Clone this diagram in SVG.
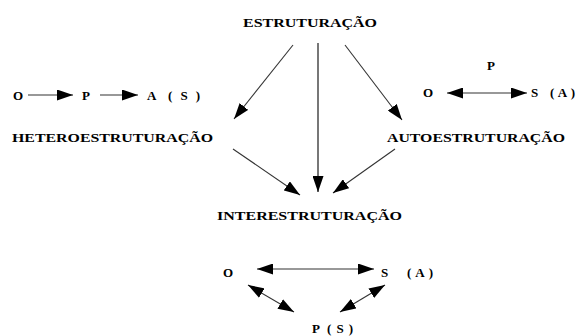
<svg xmlns="http://www.w3.org/2000/svg" width="587" height="336" viewBox="0 0 587 336">
<style>
text{font-family:"Liberation Serif","Times New Roman",serif;font-weight:bold;font-size:13px;fill:#000}
.w{font-size:12px}
.c line{stroke:#333;stroke-width:1.1;fill:none}
</style>
<defs>
<marker id="ah" viewBox="0 0 16 11" refX="16" refY="5.5" markerWidth="16" markerHeight="11" markerUnits="userSpaceOnUse" orient="auto-start-reverse">
<path d="M0,0 L16,5.5 L0,11 z" fill="#000"/>
</marker>
</defs>
<rect width="587" height="336" fill="#fff"/>
<g id="estruturacao"><text class="w" x="243" y="27" textLength="134" lengthAdjust="spacingAndGlyphs">ESTRUTURAÇÃO</text></g>
<g id="hetero"><text class="w" x="12" y="142" textLength="201" lengthAdjust="spacingAndGlyphs">HETEROESTRUTURAÇÃO</text></g>
<g id="auto"><text class="w" x="387" y="142" textLength="178" lengthAdjust="spacingAndGlyphs">AUTOESTRUTURAÇÃO</text></g>
<g id="inter"><text class="w" x="217" y="220" textLength="185" lengthAdjust="spacingAndGlyphs">INTERESTRUTURAÇÃO</text></g>
<g id="hetero-scheme">
<text x="13" y="100">O</text>
<text x="82" y="100">P</text>
<text x="147" y="100">A</text>
<text x="168" y="100" textLength="32" lengthAdjust="spacing">(S)</text>
</g>
<g id="auto-scheme">
<text x="487" y="70">P</text>
<text x="423" y="97">O</text>
<text x="531" y="97">S</text>
<text x="550" y="97" textLength="25" lengthAdjust="spacing">(A)</text>
</g>
<g id="inter-scheme">
<text x="223" y="277">O</text>
<text x="381" y="277">S</text>
<text x="407" y="277" textLength="26" lengthAdjust="spacing">(A)</text>
<text x="312" y="333">P</text>
<text x="327" y="333" textLength="26" lengthAdjust="spacing">(S)</text>
</g>
<g id="connectors" class="c">
<line x1="293" y1="45" x2="234" y2="119" marker-end="url(#ah)"/>
<line x1="318" y1="43" x2="318" y2="192" marker-end="url(#ah)" style="stroke-width:1.6;stroke:#555"/>
<line x1="345" y1="45" x2="402" y2="120" marker-end="url(#ah)"/>
<line x1="233" y1="149" x2="300" y2="195" marker-end="url(#ah)"/>
<line x1="395" y1="149" x2="333" y2="193" marker-end="url(#ah)"/>
<line x1="28" y1="95" x2="73" y2="95" marker-end="url(#ah)"/>
<line x1="100" y1="95" x2="138" y2="95" marker-end="url(#ah)"/>
<line x1="447" y1="93" x2="527" y2="93" marker-start="url(#ah)" marker-end="url(#ah)"/>
<line x1="257" y1="269" x2="374" y2="269" marker-start="url(#ah)" marker-end="url(#ah)"/>
<line x1="248" y1="285" x2="294" y2="312" marker-start="url(#ah)" marker-end="url(#ah)"/>
<line x1="385" y1="285" x2="340" y2="312" marker-start="url(#ah)" marker-end="url(#ah)"/>
</g>
</svg>
